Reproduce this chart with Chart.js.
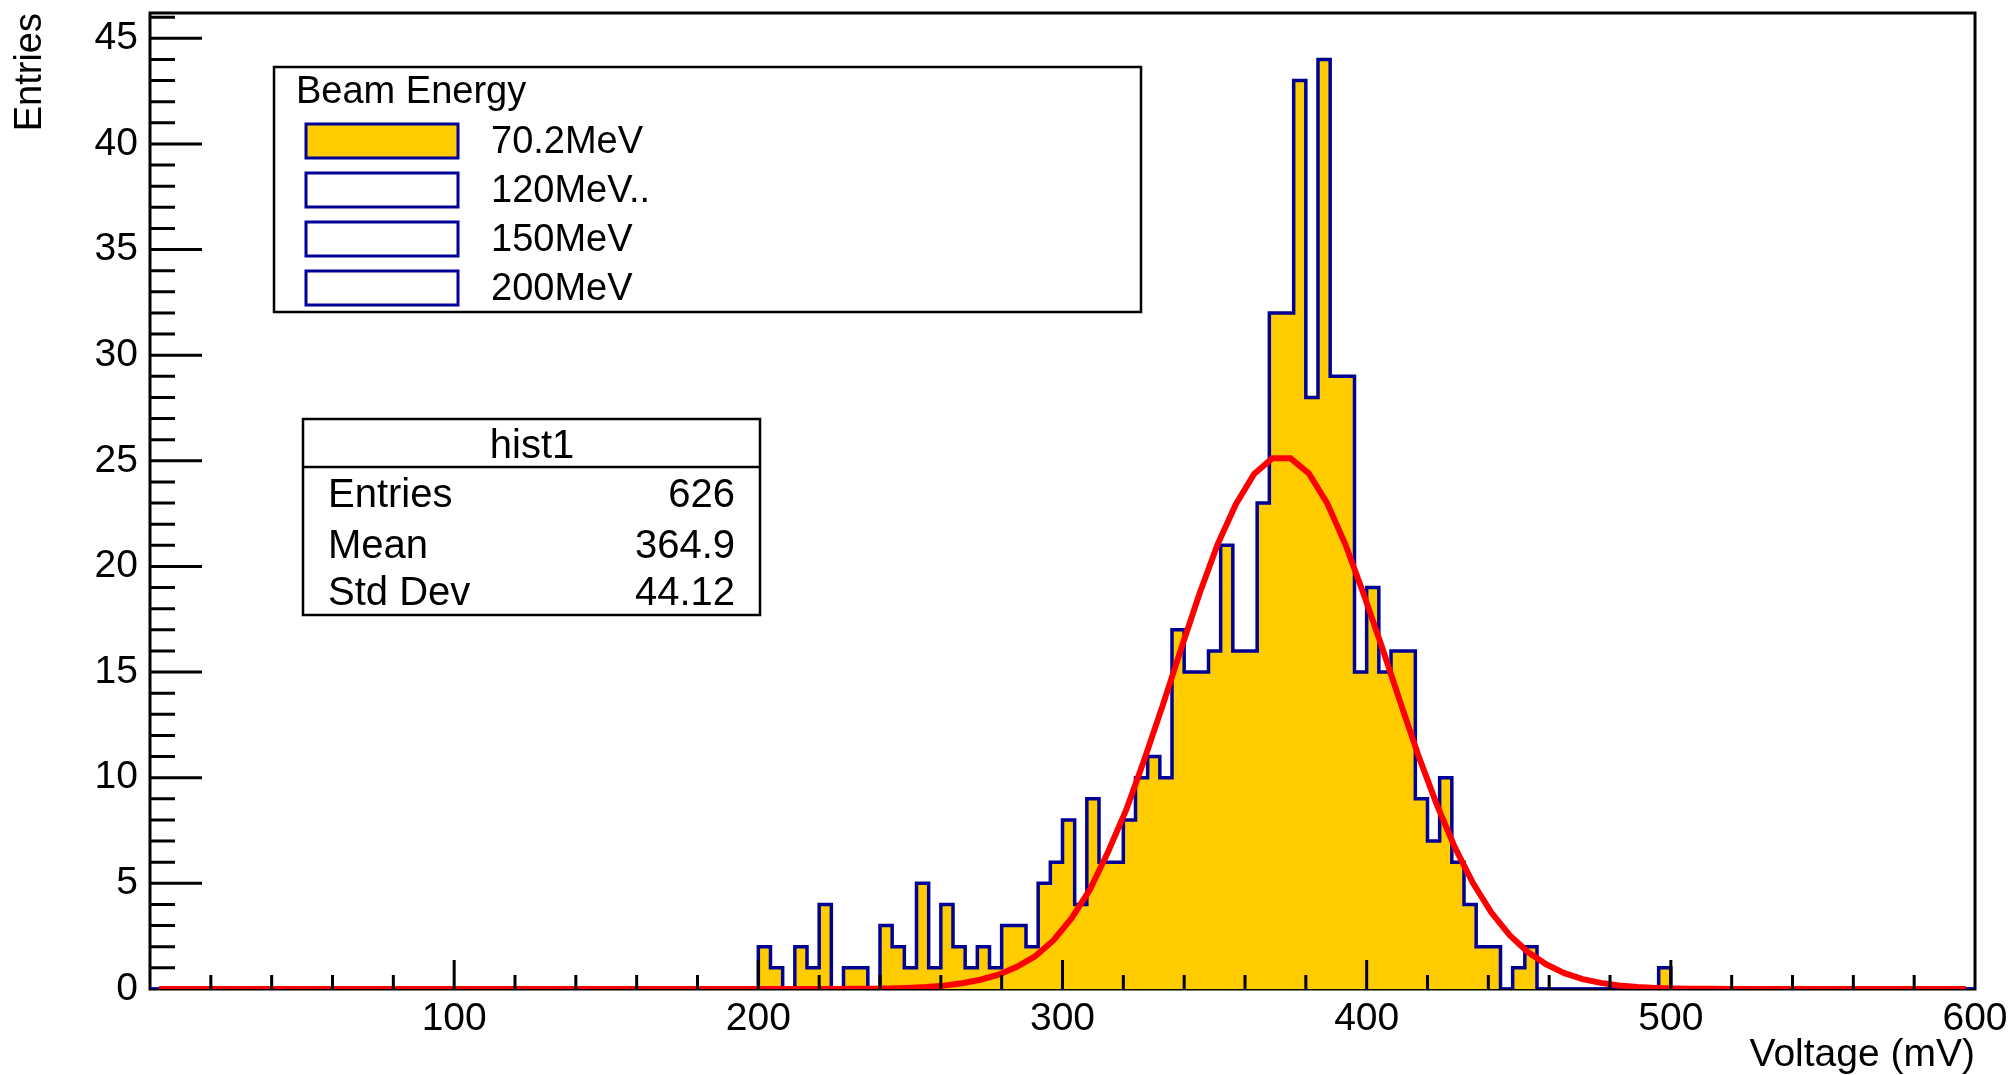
<!DOCTYPE html>
<html>
<head>
<meta charset="utf-8">
<script src="https://cdn.jsdelivr.net/npm/chart.js@4.4.1/dist/chart.umd.min.js"></script>
<style>
  body { margin: 0; background: #ffffff; }
  #hist { position: absolute; left: 0; top: 0; }
</style>
</head>
<body>
<canvas id="hist" width="2015" height="1075"></canvas>
<script>
// histogram: 4 mV bins, first bin starts at 200 mV
const binStart = 200
const binWidth = 4
const counts = [
  2, 1, 0, 2, 1, 4, 0, 1, 1, 0,
  3, 2, 1, 5, 1, 4, 2, 1, 2, 1,
  3, 3, 2, 5, 6, 8, 4, 9, 6, 6,
  8, 10, 11, 10, 17, 15, 15, 16, 21, 16,
  16, 23, 32, 32, 43, 28, 44, 29, 29, 15,
  19, 15, 16, 16, 9, 7, 10, 6, 4, 2,
  2, 0, 1, 2, 0, 0, 0, 0, 0, 0,
  0, 0, 0, 0, 1
]

// gaus fit
const fitX = [3, 219, 225, 231, 237, 243, 249, 255, 261, 267, 273, 279, 285, 291, 297, 303, 309, 315, 321, 327,
  333, 339, 345, 351, 357, 363, 369, 375, 381, 387, 393, 399, 405, 411, 417, 423, 429, 435, 441, 447,
  453, 459, 465, 471, 477, 483, 489, 495, 501, 507, 513, 519, 597]
const fitY = [0, 0.002, 0.004, 0.008, 0.015, 0.028, 0.05, 0.09, 0.16, 0.27, 0.44, 0.68, 1.05, 1.55, 2.3, 3.35, 4.7, 6.5, 8.5, 10.9,
  13.45, 16.1, 18.7, 21.05, 22.95, 24.38, 25.12, 25.12, 24.4, 23.0, 21.05, 18.7, 16.2, 13.6, 11.05, 8.75, 6.7, 5.0, 3.62, 2.55,
  1.75, 1.17, 0.75, 0.47, 0.29, 0.17, 0.095, 0.052, 0.028, 0.015, 0.008, 0.004, 0]

const xTicks = [100, 200, 300, 400, 500, 600]
const yTicks = [0, 5, 10, 15, 20, 25, 30, 35, 40, 45]
const xRange = [0, 600]
const yRange = [0, 46.2]

const legendTitle = 'Beam Energy'
const legendLabels = ['70.2MeV', '120MeV..', '150MeV', '200MeV']
const legendFilled = [true, false, false, false]

const statTitle = 'hist1'
const statNames = ['Entries', 'Mean', 'Std Dev']
const statValues = ['626', '364.9', '44.12']

const fillColor = '#ffcc00'
const lineColor = '#000099'
const fitColor = '#ff0000'
const font = '"Liberation Sans", Arial, sans-serif'

var histPoints = [{x: xRange[0], y: 0}]
for (var i = 0; i < counts.length; i++) {
  histPoints.push({x: binStart + i * binWidth, y: counts[i]})
}
histPoints.push({x: binStart + counts.length * binWidth, y: 0})
histPoints.push({x: xRange[1], y: 0})

var fitPoints = fitX.map((x, i) => ({x: x, y: fitY[i]}))

// ROOT style frame, inward ticks, legend and stats box
const rootDecor = {
  id: 'rootDecor',
  beforeDatasetsDraw(chart) {
    const a = chart.chartArea
    const ctx = chart.ctx
    ctx.save()
    ctx.strokeStyle = '#000'
    ctx.lineWidth = 3
    ctx.strokeRect(a.left, a.top, a.right - a.left, a.bottom - a.top)
    ctx.restore()
  },
  afterDatasetsDraw(chart) {
    const a = chart.chartArea
    const ctx = chart.ctx
    const xs = chart.scales.x
    const ys = chart.scales.y
    ctx.save()
    ctx.strokeStyle = '#000'
    ctx.lineWidth = 3
    ctx.beginPath()
    for (var v = 20; v < 600; v += 20) {
      var px = xs.getPixelForValue(v)
      var len = (v % 100 === 0) ? 29 : 14
      ctx.moveTo(px, a.bottom)
      ctx.lineTo(px, a.bottom - len)
    }
    for (var v = 1; v <= 46; v++) {
      var py = ys.getPixelForValue(v)
      var len = (v % 5 === 0) ? 52 : 25
      ctx.moveTo(a.left, py)
      ctx.lineTo(a.left + len, py)
    }
    ctx.stroke()

    // legend
    ctx.fillStyle = '#fff'
    ctx.fillRect(274, 67, 867, 245)
    ctx.lineWidth = 2.5
    ctx.strokeRect(274, 67, 867, 245)
    ctx.fillStyle = '#000'
    ctx.font = '38px ' + font
    ctx.textBaseline = 'alphabetic'
    ctx.textAlign = 'left'
    ctx.fillText(legendTitle, 296, 103)
    for (var i = 0; i < legendLabels.length; i++) {
      var top = 124 + i * 49
      ctx.fillStyle = legendFilled[i] ? fillColor : '#fff'
      ctx.fillRect(306, top, 152, 34)
      ctx.strokeStyle = lineColor
      ctx.lineWidth = 3
      ctx.strokeRect(306, top, 152, 34)
      ctx.fillStyle = '#000'
      ctx.fillText(legendLabels[i], 491, top + 29)
    }

    // stats box
    ctx.strokeStyle = '#000'
    ctx.fillStyle = '#fff'
    ctx.fillRect(303, 419, 457, 196)
    ctx.lineWidth = 2.5
    ctx.strokeRect(303, 419, 457, 196)
    ctx.beginPath()
    ctx.moveTo(303, 467)
    ctx.lineTo(760, 467)
    ctx.stroke()
    ctx.fillStyle = '#000'
    ctx.font = '40px ' + font
    ctx.textAlign = 'center'
    ctx.fillText(statTitle, 532, 458)
    var rowBase = [507, 558, 605]
    for (var i = 0; i < statNames.length; i++) {
      ctx.textAlign = 'left'
      ctx.fillText(statNames[i], 328, rowBase[i])
      ctx.textAlign = 'right'
      ctx.fillText(statValues[i], 735, rowBase[i])
    }
    ctx.restore()
  }
}

var ctx = document.getElementById('hist')
var histChart = new Chart(ctx, {
  type: 'line',
  data: {
    datasets: [{
      label: 'fit',
      data: fitPoints,
      borderColor: fitColor,
      borderWidth: 6,
      pointRadius: 0,
      tension: 0,
      fill: false,
      order: 0
    }, {
      label: statTitle,
      data: histPoints,
      stepped: 'before',
      borderColor: lineColor,
      backgroundColor: fillColor,
      borderWidth: 3.5,
      pointRadius: 0,
      fill: 'origin',
      order: 1
    }]
  },
  options: {
    responsive: false,
    animation: false,
    devicePixelRatio: 1,
    layout: { padding: { top: 13, right: 40, left: 0, bottom: 0 } },
    plugins: { legend: { display: false }, tooltip: { enabled: false } },
    scales: {
      x: {
        type: 'linear',
        min: xRange[0],
        max: xRange[1],
        grid: { display: false, drawTicks: false },
        border: { display: false },
        afterBuildTicks: (scale) => { scale.ticks = xTicks.map(v => ({value: v})) },
        afterFit: (scale) => {
          scale.height = 86
          scale.paddingLeft = 0
          scale.paddingRight = 0
        },
        ticks: {
          autoSkip: false,
          maxRotation: 0,
          padding: 7,
          color: '#000',
          font: { family: font, size: 39 }
        },
        title: {
          display: true,
          text: 'Voltage (mV)',
          align: 'end',
          color: '#000',
          padding: { top: 0, bottom: -4 },
          font: { family: font, size: 39 }
        }
      },
      y: {
        min: yRange[0],
        max: yRange[1],
        grid: { display: false, drawTicks: false },
        border: { display: false },
        afterBuildTicks: (scale) => { scale.ticks = yTicks.map(v => ({value: v})) },
        afterFit: (scale) => {
          scale.width = 150
          scale.paddingTop = 0
          scale.paddingBottom = 0
        },
        ticks: {
          padding: 12,
          color: '#000',
          font: { family: font, size: 39 }
        },
        title: {
          display: true,
          text: 'Entries',
          align: 'end',
          color: '#000',
          padding: { top: 8, bottom: 0 },
          font: { family: font, size: 38 }
        }
      }
    }
  },
  plugins: [rootDecor]
})
</script>
</body>
</html>
